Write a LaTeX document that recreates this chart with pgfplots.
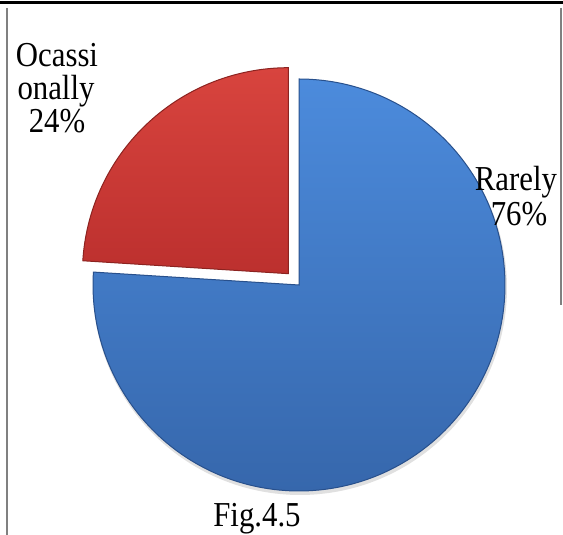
\documentclass[border=0pt]{standalone}
\usepackage{pgfplots}
\pgfplotsset{compat=1.18}
\usepackage{pgfplotstable}
\usepackage{fontspec}
\setmainfont{Liberation Serif}
\newfontfamily\cond[FakeStretch=0.88]{Liberation Serif}
\definecolor{bluetop}{RGB}{76,139,220}
\definecolor{bluebot}{RGB}{54,103,172}
\definecolor{blueedge}{RGB}{40,80,140}
\definecolor{redtop}{RGB}{216,68,62}
\definecolor{redbot}{RGB}{188,48,46}
\definecolor{rededge}{RGB}{140,35,32}
\tikzset{lbl/.style={font=\cond\fontsize{17.5pt}{16.5pt}\selectfont, inner sep=0pt, anchor=base}}
\pgfplotstableread{
label value
Rarely 76
Ocassionally 24
}\piedata
\pgfplotstablegetelem{0}{value}\of\piedata
\pgfmathsetmacro{\va}{\pgfplotsretval}
\pgfplotstablegetelem{1}{value}\of\piedata
\pgfmathsetmacro{\vb}{\pgfplotsretval}
\pgfmathsetmacro{\aend}{90-3.6*\va}
\pgfmathsetmacro{\bstart}{\aend-3.6*\vb}
\pgfmathsetmacro{\bmid}{(\aend+\bstart)/2}
\pgfmathsetmacro{\cx}{299}
\pgfmathsetmacro{\cy}{250}
\pgfmathsetmacro{\rx}{\cx+15.5*cos(\bmid)}
\pgfmathsetmacro{\ry}{\cy+15.5*sin(\bmid)}
\begin{document}
\begin{tikzpicture}
\begin{axis}[
  scale only axis, width=281.5pt, height=267.5pt,
  xmin=0, xmax=563, ymin=0, ymax=535,
  axis lines=none, clip=false,
]
% frame
\addplot[draw=black, line width=1.5pt] coordinates {(0,532) (563,532)};
\addplot[draw=gray, line width=1.2pt] coordinates {(7,527) (7,0)};
\addplot[draw=gray, line width=1.2pt] coordinates {(561,527) (561,230)};
% shadow
\addplot[draw=none, fill=black!12, domain=90:\aend, samples=200, variable=\t]
  ({\cx+1+207*cos(t)},{\cy-3+207*sin(t)}) -- (axis cs:\cx,\cy) -- cycle;
% blue slice
\addplot[draw=blueedge, line width=0.5pt, top color=bluetop, bottom color=bluebot, domain=90:\aend, samples=200, variable=\t]
  ({\cx+206*cos(t)},{\cy+206*sin(t)}) -- (axis cs:\cx,\cy) -- cycle;
% red slice (exploded)
\addplot[draw=rededge, line width=0.5pt, top color=redtop, bottom color=redbot, domain=\aend:\bstart, samples=80, variable=\t]
  ({\rx+206*cos(t)},{\ry+206*sin(t)}) -- (axis cs:\rx,\ry) -- cycle;
% labels
\node[lbl] at (axis cs:57,468) {Ocassi};
\node[lbl] at (axis cs:56,435) {onally};
\node[lbl] at (axis cs:57,402) {24\%};
\node[lbl] at (axis cs:516,344) {Rarely};
\node[lbl] at (axis cs:519,309) {76\%};
\node[lbl] at (axis cs:257,8) {Fig.4.5};
\end{axis}
\pgfresetboundingbox
\path[use as bounding box] (current axis.south west) rectangle (current axis.north east);
\end{tikzpicture}
\end{document}
